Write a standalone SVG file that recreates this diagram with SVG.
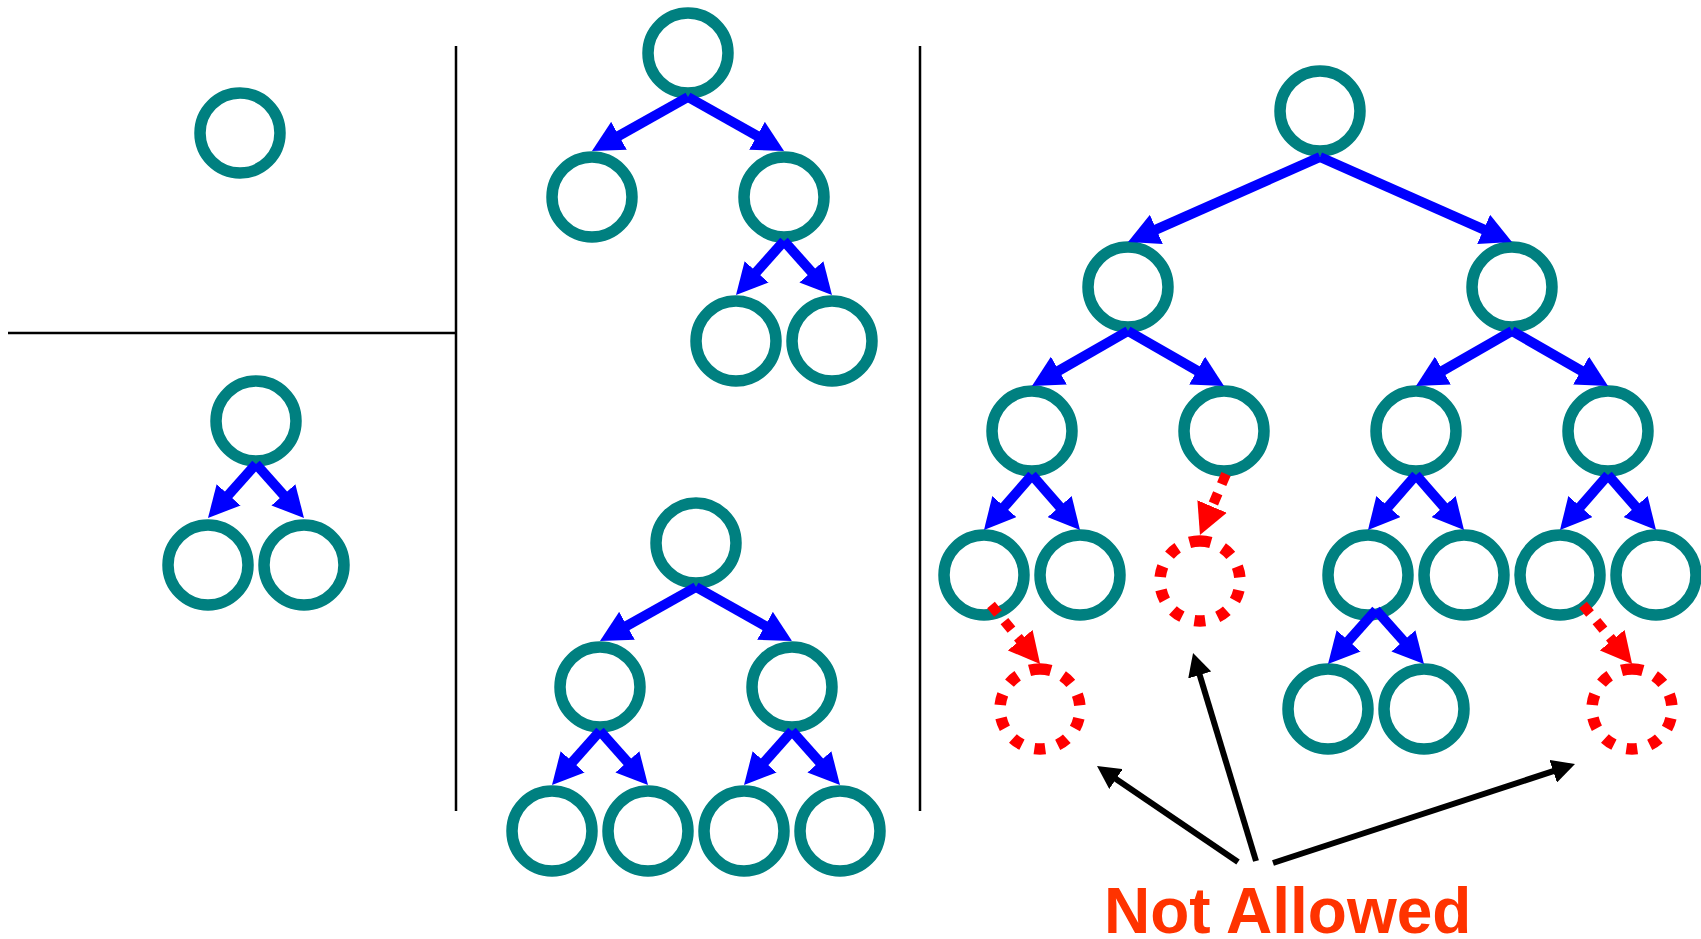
<svg xmlns="http://www.w3.org/2000/svg" width="1701" height="939" viewBox="0 0 1701 939">
<style>
.n{fill:none;stroke:#008080;stroke-width:11.5}
.x{fill:none;stroke:#ff0000;stroke-width:11.5;stroke-dasharray:11 13.03}
.b{fill:none;stroke:#0000ff;stroke-width:10;marker-end:url(#hb)}
.r{fill:none;stroke:#ff0000;stroke-width:10;stroke-dasharray:11 10;marker-end:url(#hr)}
.k{fill:none;stroke:#000;stroke-width:6;marker-end:url(#hk)}
.sep{stroke:#000;stroke-width:2.5}
.t{font-family:"Liberation Sans",Arial,sans-serif;font-weight:bold;font-size:64px;fill:#ff3300}
</style>
<defs>
<marker id="hb" markerUnits="userSpaceOnUse" markerWidth="32" markerHeight="32" refX="11" refY="16" orient="auto"><path d="M0,0 L31,16 L0,32 z" fill="#0000ff"/></marker>
<marker id="hr" markerUnits="userSpaceOnUse" markerWidth="32" markerHeight="32" refX="11" refY="16" orient="auto"><path d="M0,0 L31,16 L0,32 z" fill="#ff0000"/></marker>
<marker id="hk" markerUnits="userSpaceOnUse" markerWidth="24" markerHeight="24" refX="9" refY="12" orient="auto"><path d="M0,0 L23,12 L0,24 z" fill="#000"/></marker>
</defs>
<g id="separators">
<line class="sep" x1="8" y1="333" x2="456" y2="333"/>
<line class="sep" x1="456" y1="46" x2="456" y2="811"/>
<line class="sep" x1="920" y1="46" x2="920" y2="811"/>
</g>
<g id="nodes">
<g id="p1-root"><circle class="n" cx="240" cy="133" r="40"/></g>
<g id="p2-root"><circle class="n" cx="256" cy="421" r="40"/></g>
<g id="p2-l"><circle class="n" cx="208" cy="565" r="40"/></g>
<g id="p2-r"><circle class="n" cx="304" cy="565" r="40"/></g>
<g id="p3-root"><circle class="n" cx="688" cy="53" r="40"/></g>
<g id="p3-l"><circle class="n" cx="592" cy="197" r="40"/></g>
<g id="p3-r"><circle class="n" cx="784" cy="197" r="40"/></g>
<g id="p3-rl"><circle class="n" cx="736" cy="341" r="40"/></g>
<g id="p3-rr"><circle class="n" cx="832" cy="341" r="40"/></g>
<g id="p4-root"><circle class="n" cx="696" cy="543" r="40"/></g>
<g id="p4-l"><circle class="n" cx="600" cy="687" r="40"/></g>
<g id="p4-r"><circle class="n" cx="792" cy="687" r="40"/></g>
<g id="p4-ll"><circle class="n" cx="552" cy="831" r="40"/></g>
<g id="p4-lr"><circle class="n" cx="648" cy="831" r="40"/></g>
<g id="p4-rl"><circle class="n" cx="744" cy="831" r="40"/></g>
<g id="p4-rr"><circle class="n" cx="840" cy="831" r="40"/></g>
<g id="p5-root"><circle class="n" cx="1320" cy="111" r="40"/></g>
<g id="p5-l"><circle class="n" cx="1128" cy="287" r="40"/></g>
<g id="p5-r"><circle class="n" cx="1512" cy="287" r="40"/></g>
<g id="p5-ll"><circle class="n" cx="1032" cy="431" r="40"/></g>
<g id="p5-lr"><circle class="n" cx="1224" cy="431" r="40"/></g>
<g id="p5-rl"><circle class="n" cx="1416" cy="431" r="40"/></g>
<g id="p5-rr"><circle class="n" cx="1608" cy="431" r="40"/></g>
<g id="p5-lll"><circle class="n" cx="984" cy="575" r="40"/></g>
<g id="p5-llr"><circle class="n" cx="1080" cy="575" r="40"/></g>
<g id="p5-lrx"><path class="x" d="M1200,541 A40,40 0 1 1 1200,621 A40,40 0 1 1 1200,541"/></g>
<g id="p5-rll"><circle class="n" cx="1368" cy="575" r="40"/></g>
<g id="p5-rlr"><circle class="n" cx="1464" cy="575" r="40"/></g>
<g id="p5-rrl"><circle class="n" cx="1560" cy="575" r="40"/></g>
<g id="p5-rrr"><circle class="n" cx="1656" cy="575" r="40"/></g>
<g id="p5-lllx"><path class="x" d="M1040,669 A40,40 0 1 1 1040,749 A40,40 0 1 1 1040,669"/></g>
<g id="p5-rlll"><circle class="n" cx="1328" cy="709" r="40"/></g>
<g id="p5-rllr"><circle class="n" cx="1424" cy="709" r="40"/></g>
<g id="p5-rrlx"><path class="x" d="M1632,669 A40,40 0 1 1 1632,749 A40,40 0 1 1 1632,669"/></g>
</g>
<g id="connectors">
<line class="b" x1="256" y1="464" x2="221.3" y2="503.05"/>
<line class="b" x1="256" y1="464" x2="290.7" y2="503.05"/>
<line class="b" x1="688" y1="97" x2="609.4" y2="141.2"/>
<line class="b" x1="688" y1="97" x2="766.6" y2="141.2"/>
<line class="b" x1="784" y1="241" x2="749.3" y2="280.05"/>
<line class="b" x1="784" y1="241" x2="818.7" y2="280.05"/>
<line class="b" x1="696" y1="587" x2="617.4" y2="631.2"/>
<line class="b" x1="696" y1="587" x2="774.6" y2="631.2"/>
<line class="b" x1="600" y1="731" x2="565.3" y2="770.05"/>
<line class="b" x1="600" y1="731" x2="634.7" y2="770.05"/>
<line class="b" x1="792" y1="731" x2="757.3" y2="770.05"/>
<line class="b" x1="792" y1="731" x2="826.7" y2="770.05"/>
<line class="b" x1="1320" y1="157" x2="1146.3" y2="233.9"/>
<line class="b" x1="1320" y1="157" x2="1493.7" y2="233.9"/>
<line class="b" x1="1128" y1="331" x2="1049.35" y2="376.06"/>
<line class="b" x1="1128" y1="331" x2="1206.65" y2="376.06"/>
<line class="b" x1="1512" y1="331" x2="1433.35" y2="376.06"/>
<line class="b" x1="1512" y1="331" x2="1590.65" y2="376.06"/>
<line class="b" x1="1032" y1="475" x2="997.15" y2="514.93"/>
<line class="b" x1="1032" y1="475" x2="1066.85" y2="514.93"/>
<line class="b" x1="1416" y1="475" x2="1381.15" y2="514.93"/>
<line class="b" x1="1416" y1="475" x2="1450.85" y2="514.93"/>
<line class="b" x1="1608" y1="475" x2="1573.15" y2="514.93"/>
<line class="b" x1="1608" y1="475" x2="1642.85" y2="514.93"/>
<line class="b" x1="1376" y1="610" x2="1341.3" y2="649.05"/>
<line class="b" x1="1376" y1="610" x2="1410.7" y2="649.05"/>
<line class="r" x1="1226" y1="474" x2="1207.8" y2="516.6"/>
<line class="r" x1="991" y1="605" x2="1027.3" y2="648.6"/>
<line class="r" x1="1583" y1="605" x2="1619.3" y2="648.6"/>
<line class="k" x1="1238" y1="862" x2="1108.6" y2="773.9"/>
<line class="k" x1="1256" y1="861" x2="1197.1" y2="666.4"/>
<line class="k" x1="1273" y1="863" x2="1561.7" y2="768.4"/>
</g>
<g id="label"><text class="t" x="1104" y="933">Not Allowed</text></g>
</svg>
